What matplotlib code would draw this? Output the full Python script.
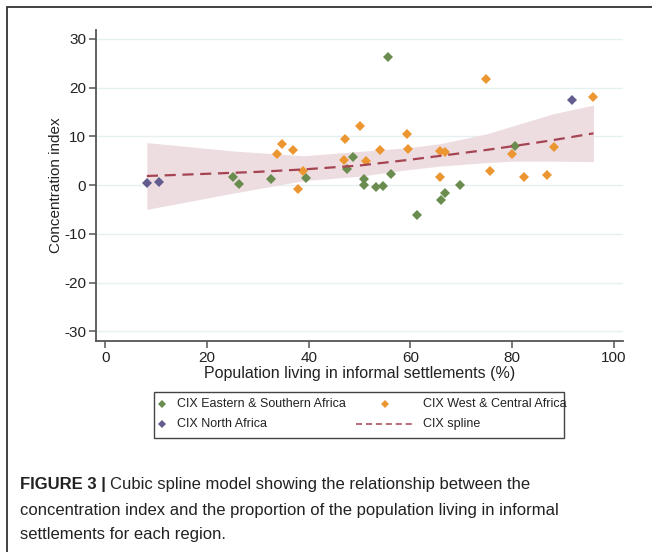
import matplotlib
matplotlib.use("Agg")
import matplotlib.pyplot as plt
from matplotlib.lines import Line2D
from matplotlib.patches import Rectangle
import numpy as np

plt.rcParams['font.family'] = ['Liberation Sans', 'DejaVu Sans']
plt.rcParams['axes.unicode_minus'] = False

# ---------------- data ----------------
north_x = [8.2, 10.5, 91.8]
north_y = [0.35, 0.55, 17.5]

east_x = [25.2, 26.3, 32.7, 39.4, 47.5, 48.7, 50.8, 50.8, 53.2, 54.7, 55.6,
          56.2, 61.3, 66.0, 66.9, 69.7, 80.5]
east_y = [1.7, 0.2, 1.3, 1.5, 3.3, 5.8, 1.2, 0.0, -0.35, -0.1, 26.2,
          2.25, -6.2, -3.1, -1.6, 0.07, 8.0]

west_x = [33.7, 34.8, 37.0, 37.9, 38.8, 47.0, 47.2, 50.1, 51.3, 54.0, 59.3,
          59.6, 65.8, 65.8, 66.8, 74.9, 75.7, 80.0, 82.4, 86.8, 88.3, 96.0]
west_y = [6.3, 8.5, 7.2, -0.8, 2.9, 5.1, 9.4, 12.1, 4.85, 7.2, 10.4,
          7.3, 7.0, 1.7, 6.7, 21.7, 2.9, 6.35, 1.65, 2.05, 7.85, 18.0]

spline_x = [8.2, 20, 30, 39, 50, 60, 66, 75, 80.4, 88, 96]
spline_y = [1.85, 2.3, 2.7, 3.2, 4.0, 5.2, 6.0, 7.2, 8.0, 9.2, 10.6]

band_x = [8.2, 25, 39, 50, 60, 66, 75, 80.4, 88, 96]
band_hi = [8.7, 7.0, 6.0, 6.9, 7.7, 8.5, 10.5, 12.2, 14.6, 16.4]
band_lo = [-5.0, -1.7, 0.9, 1.8, 3.2, 3.9, 4.6, 4.9, 4.9, 4.8]

x_ticks = [0, 20, 40, 60, 80, 100]
y_ticks = [-30, -20, -10, 0, 10, 20, 30]

legend_labels = ["CIX Eastern & Southern Africa", "CIX West & Central Africa",
                 "CIX North Africa", "CIX spline"]

c_east = "#6b8c4f"
c_west = "#ec9632"
c_north = "#625d8c"
c_spline = "#a54452"
c_band = "#eddde0"
c_grid = "#e6f0f1"

W, H = 652, 552
fig = plt.figure(figsize=(W / 100, H / 100), dpi=100)

def fx(px):
    return px / W

def fy(py):
    return 1 - py / H

ax = fig.add_axes([fx(96), fy(341), fx(623) - fx(96), fy(30) - fy(341)])

ax.fill_between(band_x, band_lo, band_hi, color=c_band, lw=0, zorder=1)
ms = 5.6
ax.plot(east_x, east_y, 'D', color=c_east, ms=ms, mew=0, zorder=3)
ax.plot(west_x, west_y, 'D', color=c_west, ms=ms, mew=0, zorder=3)
ax.plot(north_x, north_y, 'D', color=c_north, ms=ms, mew=0, zorder=3)
ax.plot(spline_x, spline_y, '--', color=c_spline, lw=1.6, dashes=(5, 3), zorder=4)

ax.set_xlim(-1.8, 101.8)
ax.set_ylim(-32, 31.8)
ax.set_xticks(x_ticks)
ax.set_yticks(y_ticks)
for yv in y_ticks:
    ax.axhline(yv, color=c_grid, lw=1.0, zorder=0)
for s in ['top', 'right']:
    ax.spines[s].set_visible(False)
for s in ['left', 'bottom']:
    ax.spines[s].set_color('#555555')
    ax.spines[s].set_linewidth(1.3)
ax.tick_params(axis='both', direction='out', length=5, width=1.1,
               color='#555555', labelsize=11, labelcolor='#222222', pad=2)
ax.set_xlabel("Population living in informal settlements (%)", fontsize=11.5,
              color='#222222', labelpad=1)
ax.set_ylabel("Concentration index", fontsize=11, color='#222222', labelpad=1)

# ---------------- legend (manual) ----------------
fig.add_artist(Rectangle((fx(154), fy(438)), fx(564) - fx(154), fy(392) - fy(438),
                         transform=fig.transFigure, fill=False,
                         edgecolor='#444444', lw=1.0))
leg_fs = 9.0
fig.add_artist(Line2D([fx(162)], [fy(404)], marker='D', color=c_east, ms=4.5,
                      mew=0, transform=fig.transFigure))
fig.text(fx(177), fy(404), legend_labels[0], fontsize=leg_fs, va='center', color='#222222')
fig.add_artist(Line2D([fx(162)], [fy(424)], marker='D', color=c_north, ms=4.5,
                      mew=0, transform=fig.transFigure))
fig.text(fx(177), fy(424), legend_labels[2], fontsize=leg_fs, va='center', color='#222222')
fig.add_artist(Line2D([fx(385)], [fy(404)], marker='D', color=c_west, ms=4.5,
                      mew=0, transform=fig.transFigure))
fig.text(fx(423), fy(404), legend_labels[1], fontsize=leg_fs, va='center', color='#222222')
fig.add_artist(Line2D([fx(356), fx(413)], [fy(424), fy(424)], ls='--', dashes=(4, 2.5),
                      color=c_spline, lw=1.1, transform=fig.transFigure))
fig.text(fx(423), fy(424), legend_labels[3], fontsize=leg_fs, va='center', color='#222222')

# ---------------- outer frame ----------------
fig.add_artist(Rectangle((fx(7), fy(H + 10)), fx(W + 10) - fx(7), fy(7) - fy(H + 10),
                         transform=fig.transFigure, fill=False,
                         edgecolor='#333333', lw=1.3))

# ---------------- caption ----------------
cap_fs = 12.0
cap_col = '#222222'
t_bold = fig.text(fx(20), fy(485), "FIGURE 3 |", fontsize=cap_fs, fontweight='bold',
                  va='center', color=cap_col)
fig.canvas.draw()
bb = t_bold.get_window_extent()
fig.text((bb.x1 + 4) / W, fy(485), "Cubic spline model showing the relationship between the",
         fontsize=cap_fs, va='center', color=cap_col)
fig.text(fx(20), fy(510), "concentration index and the proportion of the population living in informal",
         fontsize=cap_fs, va='center', color=cap_col)
fig.text(fx(20), fy(535), "settlements for each region.",
         fontsize=cap_fs, va='center', color=cap_col)

fig.savefig("out.png", dpi=100)
